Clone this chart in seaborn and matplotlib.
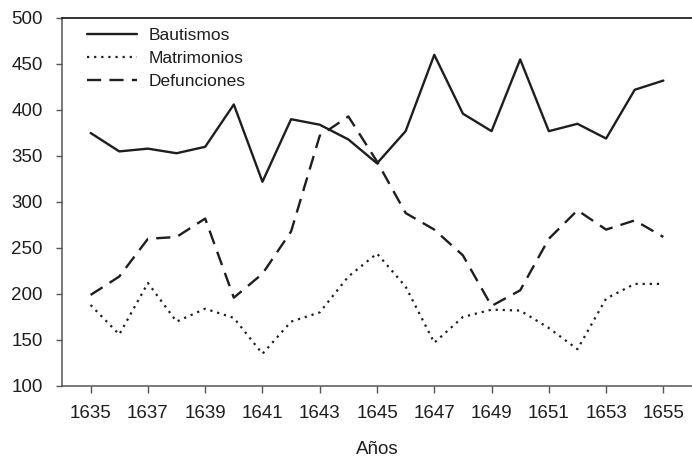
import numpy as np
import pandas as pd
import matplotlib
matplotlib.use("Agg")
import matplotlib.pyplot as plt
import seaborn as sns

# values
years = list(range(1635, 1656))
bautismos = [375, 355, 358, 353, 360, 406, 322, 390, 384, 368, 342,
             377, 460, 396, 377, 455, 377, 385, 369, 422, 432]
matrimonios = [188, 156, 212, 170, 184, 174, 135, 170, 180, 219, 244,
               208, 147, 175, 183, 182, 163, 140, 195, 211, 211]
defunciones = [199, 219, 260, 262, 282, 196, 222, 268, 372, 393, 344,
               288, 270, 242, 187, 204, 260, 291, 270, 280, 262]
xticks = list(range(1635, 1656, 2))
yticks = list(range(100, 501, 50))

sns.set_style("white")
plt.rcParams['font.family'] = ['Liberation Sans', 'DejaVu Sans']

df = pd.DataFrame({'Años': years, 'Bautismos': bautismos,
                   'Matrimonios': matrimonios, 'Defunciones': defunciones})

fig = plt.figure(figsize=(6.92, 4.59), dpi=100)
ax = fig.add_axes([62 / 692, 1 - 386 / 459, 630 / 692, 368 / 459])

ink = '#1e1e1e'
sns.lineplot(data=df, x='Años', y='Bautismos', ax=ax, color=ink,
             linewidth=1.7, linestyle='-', label='Bautismos')
sns.lineplot(data=df, x='Años', y='Matrimonios', ax=ax, color=ink,
             linewidth=1.6, linestyle=(0, (1, 2.2)), label='Matrimonios')
sns.lineplot(data=df, x='Años', y='Defunciones', ax=ax, color=ink,
             linewidth=1.7, linestyle=(0, (6, 3.5)), label='Defunciones')

ax.set_xlim(1634, 1656)
ax.set_ylim(100, 500)
ax.set_xticks(xticks)
ax.set_xticklabels([str(y) for y in xticks])
ax.set_yticks(yticks)
ax.set_ylabel('')
ax.set_xlabel('Años', fontsize=13.5, color=ink)
ax.xaxis.set_label_coords(0.5, -0.15)

ax.tick_params(axis='x', direction='out', length=5, width=1, color='#555555',
               pad=9, labelsize=13.5, labelcolor=ink, bottom=True)
ax.tick_params(axis='y', direction='out', length=4, width=1, color='#555555',
               pad=10, labelsize=13.5, labelcolor=ink, left=True)

for side in ['left', 'bottom']:
    ax.spines[side].set_color('#555555')
    ax.spines[side].set_linewidth(1.1)
ax.spines['top'].set_color('#222222')
ax.spines['top'].set_linewidth(1.3)
ax.spines['right'].set_visible(False)

leg = ax.legend(loc='upper left', bbox_to_anchor=(25 / 630, 1 - 10 / 368),
                frameon=False, fontsize=12.5, borderaxespad=0, borderpad=0,
                handlelength=2.9, handletextpad=0.65, labelspacing=0.45)
for t in leg.get_texts():
    t.set_color(ink)

fig.savefig('out.png', dpi=100)
